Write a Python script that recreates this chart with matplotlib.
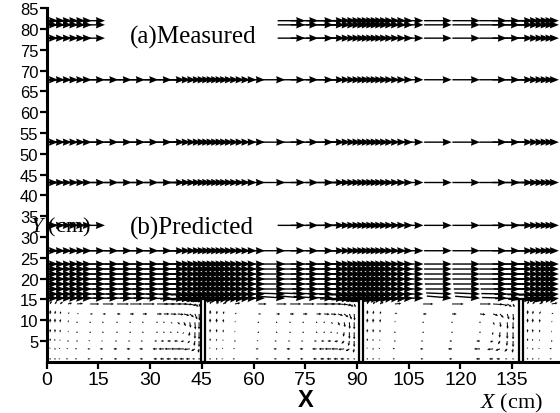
import numpy as np
import matplotlib
matplotlib.use("Agg")
import matplotlib.pyplot as plt

plt.rcParams['mathtext.fontset'] = 'custom'
plt.rcParams['mathtext.it'] = 'Liberation Serif:italic'
plt.rcParams['mathtext.rm'] = 'Liberation Serif'

# ---------------- data ----------------
x_ticks = [0, 15, 30, 45, 60, 75, 90, 105, 120, 135]
y_ticks = [5, 10, 15, 20, 25, 30, 35, 40, 45, 50, 55, 60, 65, 70, 75, 80, 85]

# arrow-head x positions of the vectors in the free-stream rows (cm)
x_flow = [3.3, 5.3, 7.3, 9.2, 11.2, 13.1,
          16.9, 20.8, 24.7, 28.5, 32.4, 36.3,
          40.1, 41.8, 43.4, 45.0, 46.4, 47.7, 49.0, 50.3, 51.6, 52.9, 54.3, 55.8, 57.4, 59.1, 60.9,
          63.3, 69.2, 75.0, 78.8, 83.2,
          86.5, 88.2, 89.8, 91.3, 92.7, 94.0, 95.3, 96.6, 97.9, 99.3, 100.8, 102.5, 104.3, 106.3,
          109.3, 117.5, 125.7, 133.5, 137.3,
          141.1, 142.8, 144.4, 145.9, 147.3, 148.6]

# x range with no vectors in the partially measured rows (cm)
gap_span = (18.0, 73.0)

# (a) measured rows
y_measured = [82.0, 81.0, 77.8, 67.8, 52.8, 43.1]
len_measured = [8.0, 8.0, 8.0, 8.0, 8.0, 8.0]
gap_measured = [True, True, True, False, False, False]

# (b) predicted rows above the cavities
y_predicted = [32.8, 26.7, 23.5, 22.3, 21.1, 19.9, 18.7, 17.5, 16.3, 15.3]
len_predicted = [8.0, 8.0, 8.0, 8.0, 8.0, 8.0, 7.8, 7.6, 7.4, 7.2]
gap_predicted = [True, False, False, False, False, False, False, False, False, False]

v_pred_163 = [0, 0, 0, 0, 0, 0,
              0, 0, 0, 0, 0, 0.05,
              0.1, 0.15, 0.2, 0.25, 0.3, 0.35, 0.4, 0.4, 0.4, 0.4, 0.35, 0.3, 0.25, 0.2, 0.1,
              0.0, -0.2, -0.25, -0.2, -0.1,
              0.1, 0.15, 0.2, 0.3, 0.35, 0.4, 0.4, 0.4, 0.4, 0.35, 0.3, 0.25, 0.2, 0.1,
              0.0, -0.25, -0.25, -0.1, 0.05,
              0.15, 0.2, 0.25, 0.3, 0.35, 0.4]
v_pred_153 = [0, 0, 0, 0, 0, 0,
              0, 0, 0, 0, 0, 0.1,
              0.2, 0.3, 0.4, 0.5, 0.6, 0.7, 0.8, 0.8, 0.8, 0.7, 0.6, 0.5, 0.4, 0.3, 0.2,
              0.0, -0.4, -0.5, -0.4, -0.2,
              0.2, 0.3, 0.4, 0.5, 0.6, 0.7, 0.8, 0.8, 0.8, 0.7, 0.6, 0.5, 0.4, 0.2,
              0.0, -0.5, -0.45, -0.15, 0.1,
              0.3, 0.4, 0.5, 0.6, 0.7, 0.8]

# baffles
baffle_x = [45.3, 91.1, 137.6]
baffle_h = 15.0

# recirculating flow inside the cavities
y_cav = [13.9, 11.5, 9.5, 7.1, 5.0, 3.1, 0.7]

cav1_x = [1.0, 2.4, 3.9, 6.2, 8.8, 12.6, 16.3, 20.4, 24.2, 27.9, 32.0, 34.0, 36.0, 38.0, 39.8, 41.5, 43.0, 44.2]
cav1_u = [[0.3, 0.4, 0.6, 0.9, 1.3, 2.0, 2.4, 2.6, 2.6, 2.6, 2.5, 2.4, 2.3, 2.1, 1.8, 1.4, 0.8, 0.3],
          [0.05, 0.1, 0.15, 0.3, 0.4, 0.6, 0.7, 0.8, 0.9, 1.0, 1.1, 1.2, 1.3, 1.3, 1.2, 0.9, 0.5, 0.1],
          [0, 0, 0.05, 0.1, 0.1, 0.1, 0.1, 0.1, 0.1, 0.1, 0.2, 0.3, 0.4, 0.5, 0.4, 0.2, 0.1, 0],
          [0, 0, 0, 0.05, 0, 0, -0.1, -0.1, -0.1, -0.1, -0.1, -0.1, -0.1, -0.2, -0.3, -0.2, 0, 0],
          [0, -0.05, -0.1, -0.2, -0.3, -0.4, -0.4, -0.5, -0.5, -0.5, -0.6, -0.7, -0.8, -0.8, -0.7, -0.5, -0.2, 0],
          [-0.1, -0.2, -0.3, -0.4, -0.5, -0.6, -0.7, -0.8, -0.8, -0.8, -1.0, -1.2, -1.4, -1.5, -1.5, -1.3, -0.8, -0.2],
          [-0.2, -0.3, -0.4, -0.5, -0.5, -0.6, -0.6, -0.7, -0.7, -0.7, -0.8, -0.9, -1.0, -1.0, -1.0, -0.9, -0.6, -0.2]]
cav1_v = [[0.6, 0.5, 0.4, 0.2, 0.1, 0, 0, 0, 0, 0, 0, 0, 0, 0, -0.1, -0.3, -0.5, -0.6],
          [0.7, 0.6, 0.5, 0.3, 0.1, 0, 0, 0, 0, 0, 0, 0, -0.05, -0.1, -0.3, -0.6, -1.0, -1.2],
          [0.7, 0.7, 0.6, 0.4, 0.2, 0.1, 0, 0, 0, 0, 0, -0.1, -0.2, -0.4, -0.7, -1.0, -1.3, -1.3],
          [0.6, 0.6, 0.5, 0.3, 0.2, 0.1, 0, 0, 0, 0, 0, 0, 0, 0, -0.3, -0.7, -1.2, -1.3],
          [0.5, 0.4, 0.3, 0.2, 0.1, 0.1, 0, 0, 0, 0, 0, 0, 0, 0, -0.1, -0.4, -0.9, -1.1],
          [0.3, 0.2, 0.2, 0.1, 0.05, 0, 0, 0, 0, 0, 0, 0, 0, 0, 0, -0.1, -0.4, -0.7],
          [0.1, 0.05, 0, 0, 0, 0, 0, 0, 0, 0, 0, 0, 0, 0, 0, 0, 0, -0.1]]

cav2_x = [47.4, 49.3, 51.2, 54.6, 61.4, 66.7, 70.6, 74.4, 78.3, 80.5, 82.5, 84.5, 86.3, 87.8, 89.2]
cav2_u = [[0.3, 0.5, 0.8, 1.2, 1.8, 2.2, 2.4, 2.5, 2.5, 2.4, 2.2, 1.9, 1.5, 0.9, 0.3],
          [0.05, 0.1, 0.2, 0.4, 0.6, 0.8, 0.9, 1.0, 1.1, 1.2, 1.2, 1.1, 0.9, 0.5, 0.1],
          [0, 0, 0.05, 0.1, 0.1, 0.1, 0.1, 0.1, 0.2, 0.3, 0.4, 0.4, 0.2, 0.1, 0],
          [0, 0, 0, 0, 0, -0.1, -0.1, -0.1, -0.1, -0.1, -0.2, -0.3, -0.2, 0, 0],
          [0, -0.05, -0.1, -0.2, -0.4, -0.5, -0.5, -0.5, -0.6, -0.7, -0.8, -0.8, -0.6, -0.2, 0],
          [-0.1, -0.2, -0.3, -0.4, -0.6, -0.7, -0.8, -0.8, -1.0, -1.2, -1.4, -1.5, -1.3, -0.8, -0.2],
          [-0.2, -0.3, -0.4, -0.5, -0.6, -0.6, -0.7, -0.7, -0.8, -0.9, -1.0, -1.0, -0.9, -0.6, -0.2]]
cav2_v = [[0.6, 0.5, 0.4, 0.2, 0, 0, 0, 0, 0, 0, 0, -0.1, -0.3, -0.5, -0.6],
          [0.7, 0.6, 0.5, 0.2, 0, 0, 0, 0, 0, -0.05, -0.1, -0.3, -0.6, -1.0, -1.2],
          [0.7, 0.7, 0.6, 0.3, 0.1, 0, 0, 0, 0, -0.1, -0.3, -0.6, -0.9, -1.2, -1.3],
          [0.6, 0.6, 0.5, 0.3, 0.1, 0, 0, 0, 0, 0, 0, -0.3, -0.8, -1.2, -1.3],
          [0.5, 0.4, 0.3, 0.2, 0.1, 0, 0, 0, 0, 0, 0, -0.1, -0.5, -0.9, -1.1],
          [0.3, 0.2, 0.2, 0.1, 0, 0, 0, 0, 0, 0, 0, 0, -0.1, -0.4, -0.7],
          [0.1, 0.05, 0, 0, 0, 0, 0, 0, 0, 0, 0, 0, 0, 0, -0.1]]

cav3_x = [93.0, 94.7, 96.7, 101.0, 109.2, 117.6, 125.7, 129.5, 131.5, 133.6, 135.3]
cav3_u = [[0.3, 0.5, 0.8, 1.4, 2.2, 2.5, 2.4, 2.1, 1.7, 1.0, 0.3],
          [0.05, 0.1, 0.2, 0.5, 0.8, 1.0, 1.2, 1.1, 0.8, 0.4, 0.1],
          [0, 0, 0.05, 0.1, 0.1, 0.1, 0.3, 0.3, 0.2, 0.1, 0],
          [0, 0, 0, 0, -0.1, -0.1, -0.2, -0.2, -0.1, 0, 0],
          [0, -0.05, -0.1, -0.3, -0.5, -0.6, -0.8, -0.7, -0.4, -0.1, 0],
          [-0.1, -0.2, -0.3, -0.5, -0.7, -0.9, -1.3, -1.3, -1.0, -0.6, -0.2],
          [-0.2, -0.3, -0.4, -0.5, -0.6, -0.7, -0.9, -0.9, -0.8, -0.5, -0.2]]
cav3_v = [[0.6, 0.5, 0.4, 0.1, 0, 0, 0, -0.1, -0.3, -0.5, -0.6],
          [0.7, 0.6, 0.5, 0.2, 0, 0, -0.1, -0.3, -0.7, -1.0, -1.2],
          [0.7, 0.7, 0.6, 0.3, 0, 0, -0.1, -0.5, -0.9, -1.2, -1.3],
          [0.6, 0.6, 0.5, 0.2, 0, 0, 0, -0.5, -1.0, -1.2, -1.3],
          [0.5, 0.4, 0.3, 0.1, 0, 0, 0, -0.2, -0.6, -0.9, -1.1],
          [0.3, 0.2, 0.2, 0.1, 0, 0, 0, -0.1, -0.3, -0.5, -0.7],
          [0.1, 0.05, 0, 0, 0, 0, 0, 0, 0, 0, -0.1]]

cav4_x = [139.5, 141.0, 143.0, 146.5]
cav4_u = [[0.3, 0.5, 0.8, 1.3],
          [0.05, 0.1, 0.2, 0.4],
          [0, 0, 0.05, 0.1],
          [0, 0, 0, 0],
          [0, -0.05, -0.1, -0.3],
          [-0.1, -0.2, -0.3, -0.5],
          [-0.2, -0.3, -0.4, -0.5]]
cav4_v = [[0.6, 0.5, 0.4, 0.2],
          [0.7, 0.6, 0.5, 0.2],
          [0.7, 0.7, 0.6, 0.3],
          [0.6, 0.6, 0.5, 0.3],
          [0.5, 0.4, 0.3, 0.1],
          [0.3, 0.2, 0.2, 0.1],
          [0.1, 0.05, 0, 0]]

# ---------------- figure ----------------
W, H = 560, 414
fig = plt.figure(figsize=(W / 100, H / 100), dpi=100)
x_px0, y_px0 = 46.7, 362.8
px_per_x, px_per_y = 3.447, 4.16
xmax, ymax = 150, 85
ax = fig.add_axes([x_px0 / W, (H - y_px0) / H, xmax * px_per_x / W, ymax * px_per_y / H])
ax.set_xlim(0, xmax)
ax.set_ylim(0, ymax)

qkw_flow = dict(pivot='tip', angles='xy', scale_units='xy', scale=1, units='dots',
                width=1.4, headwidth=5.2, headlength=6.5, headaxislength=6,
                color='black', zorder=3)
qkw_cav = dict(pivot='tail', angles='xy', scale_units='xy', scale=0.75, units='dots',
               width=1.0, headwidth=2.6, headlength=2.6, headaxislength=2.3,
               minshaft=1.5, minlength=1.5, color='black', zorder=2)

xf = np.array(x_flow)


def flow_row(y, length, gap, v=None):
    keep = np.ones(len(xf), bool)
    if gap:
        keep = ~((xf > gap_span[0]) & (xf < gap_span[1]))
    vv = np.zeros(len(xf)) if v is None else np.array(v, float)
    n = int(keep.sum())
    ax.quiver(xf[keep], np.full(n, y), np.full(n, length), vv[keep], **qkw_flow)


for y, L, g in zip(y_measured, len_measured, gap_measured):
    flow_row(y, L, g)

v_by_row = {16.3: v_pred_163, 15.3: v_pred_153}
for y, L, g in zip(y_predicted, len_predicted, gap_predicted):
    flow_row(y, L, g, v_by_row.get(y))

for cx, cu, cv in [(cav1_x, cav1_u, cav1_v), (cav2_x, cav2_u, cav2_v),
                   (cav3_x, cav3_u, cav3_v), (cav4_x, cav4_u, cav4_v)]:
    X, Y = np.meshgrid(cx, y_cav)
    ax.quiver(X, Y, np.array(cu, float), np.array(cv, float), **qkw_cav)

ax.bar(baffle_x, baffle_h, width=1.1, bottom=0, facecolor='white',
       edgecolor='black', linewidth=1.6, zorder=4)

# spines / ticks
for s in ['top', 'right']:
    ax.spines[s].set_visible(False)
for s in ['left', 'bottom']:
    ax.spines[s].set_linewidth(2.2)
    ax.spines[s].set_zorder(5)

ax.set_xticks(x_ticks)
ax.set_yticks(y_ticks)
ax.set_xticklabels([str(t) for t in x_ticks], fontsize=14, family='Liberation Sans')
ax.set_yticklabels([str(t) for t in y_ticks], fontsize=12, family='Liberation Sans')
ax.tick_params(axis='both', direction='out', length=5, width=1.6, color='black')
ax.tick_params(axis='y', pad=1)
ax.tick_params(axis='x', pad=1.5)

ax.set_xlabel('X', fontsize=17, fontweight='bold', family='Liberation Sans', labelpad=0)

ax.text(24.2, 78.1, '(a)Measured', family='Liberation Serif', fontsize=18,
        ha='left', va='center', zorder=6)
ax.text(24.2, 32.4, '(b)Predicted', family='Liberation Serif', fontsize=18,
        ha='left', va='center', zorder=6)
ax.text(-4.8, 32.6, '$Y$ (cm)', fontsize=16, family='Liberation Serif',
        ha='left', va='center', clip_on=False, zorder=6)
ax.text(125.7, -9.8, '$X$ (cm)', fontsize=16, family='Liberation Serif',
        ha='left', va='center', clip_on=False, zorder=6)

fig.savefig('out.png', dpi=100)
